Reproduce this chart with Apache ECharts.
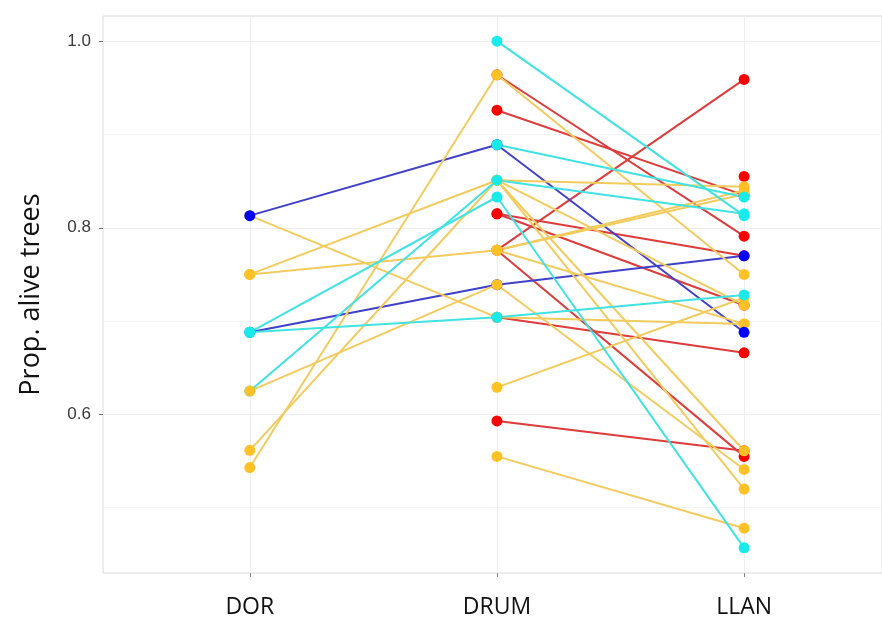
<!DOCTYPE html>
<html>
<head>
<meta charset="utf-8">
<script src="https://cdn.jsdelivr.net/npm/echarts@6/dist/echarts.min.js"></script>
<style>
  html, body { margin: 0; padding: 0; background: #ffffff; }
  #chart { width: 882px; height: 619px; }
</style>
</head>
<body>
<div id="chart"></div>
<script>
// Sites sampled in each forest; one row per site: [DOR, DRUM, LLAN], null = not sampled
const categories = ['DOR', 'DRUM', 'LLAN'];

const redSites = [
  [null, 0.964, 0.791],
  [null, 0.926, 0.835],
  [null, 0.776, 0.959],
  [null, 0.776, 0.555],
  [null, 0.815, 0.770],
  [null, 0.815, 0.717],
  [null, 0.704, 0.666],
  [null, 0.593, 0.561],
  [null, null, 0.855]
];

const blueSites = [
  [0.813, 0.889, 0.688],
  [0.688, 0.739, 0.770]
];

const goldSites = [
  [0.543, 0.964, 0.750],
  [0.813, 0.704, 0.697],
  [0.750, 0.851, 0.844],
  [0.750, 0.776, 0.840],
  [0.625, 0.739, 0.541],
  [0.5615, 0.851, 0.520],
  [null, 0.851, 0.717],
  [null, 0.851, 0.561],
  [null, 0.776, 0.836],
  [null, 0.776, 0.697],
  [null, 0.629, 0.725],
  [null, 0.555, 0.478]
];

const cyanSites = [
  [null, 1.000, 0.813],
  [0.688, 0.833, 0.457],
  [0.688, 0.704, 0.728],
  [0.625, 0.851, 0.815],
  [null, 0.889, 0.833]
];

// axis breaks
const yTicks = [0.6, 0.8, 1.0];
const yMinorGrid = [0.5, 0.7, 0.9];
const yRange = [0.43, 1.027];
const xRange = [0.406, 3.558];

const palette = {
  red:  { point: '#FF0000', line: '#DC3C3C' },
  blue: { point: '#0000FF', line: '#4040C8' },
  gold: { point: '#FFC125', line: '#F2CB5E' },
  cyan: { point: '#19EBEB', line: '#40E2E2' }
};
const sitesByColour = { red: redSites, blue: blueSites, gold: goldSites, cyan: cyanSites };

// stacking order of the site markers (later ones sit on top)
const pointOrder = [
  ['red', 0], ['red', 1], ['red', 2], ['red', 3], ['red', 4], ['red', 5], ['red', 6], ['red', 7], ['red', 8],
  ['gold', 1], ['blue', 1],
  ['gold', 0], ['gold', 2], ['gold', 3], ['gold', 5], ['gold', 6], ['gold', 7],
  ['gold', 8], ['gold', 9], ['gold', 10], ['gold', 11],
  ['blue', 0],
  ['cyan', 0], ['cyan', 1], ['cyan', 2], ['cyan', 4], ['cyan', 3],
  ['gold', 4]
];

function toPoints(row) {
  const pts = [];
  row.forEach((v, i) => { if (v !== null) pts.push([i + 1, v]); });
  return pts;
}

const series = [];

// background grid, placed on the axes' own scales
series.push({
  type: 'line',
  data: [],
  silent: true,
  z: 0,
  zlevel: 0,
  markLine: {
    silent: true,
    symbol: 'none',
    animation: false,
    label: { show: false },
    lineStyle: { color: '#EEEEEE', width: 1, type: 'solid' },
    data: [
      ...yTicks.map(v => ({ yAxis: v })),
      ...yMinorGrid.map(v => ({ yAxis: v, lineStyle: { color: '#F4F4F4', width: 1, type: 'solid' } })),
      ...categories.map((c, i) => ({ xAxis: i + 1 }))
    ]
  }
});

// connecting lines, one per site
['red', 'blue', 'gold', 'cyan'].forEach(name => {
  sitesByColour[name].forEach(row => {
    const pts = toPoints(row);
    if (pts.length < 2) return;
    series.push({
      type: 'line',
      data: pts,
      showSymbol: false,
      symbol: 'none',
      silent: true,
      zlevel: 1,
      z: 2,
      animation: false,
      lineStyle: { color: palette[name].line, width: 2 }
    });
  });
});

// site markers drawn over every line
pointOrder.forEach(([name, idx]) => {
  series.push({
    type: 'scatter',
    data: toPoints(sitesByColour[name][idx]),
    symbol: 'circle',
    symbolSize: 11,
    zlevel: 1,
    z: 3,
    silent: true,
    animation: false,
    itemStyle: { color: palette[name].point, opacity: 1 }
  });
});

const chart = echarts.init(document.getElementById('chart'), null, { renderer: 'canvas' });
chart.setOption({
  animation: false,
  backgroundColor: '#ffffff',
  grid: {
    show: true,
    left: 103,
    width: 780,
    top: 16,
    bottom: 46,
    borderColor: '#DADADA',
    borderWidth: 1,
    backgroundColor: 'transparent',
    containLabel: false
  },
  xAxis: {
    type: 'value',
    min: xRange[0],
    max: xRange[1],
    axisLine: { show: false },
    splitLine: { show: false },
    axisTick: {
      show: true,
      customValues: categories.map((c, i) => i + 1),
      length: 4,
      lineStyle: { color: '#8C8C8C' }
    },
    axisLabel: {
      customValues: categories.map((c, i) => i + 1),
      formatter: v => categories[Math.round(v) - 1] || '',
      fontFamily: 'Open Sans',
      fontSize: 23,
      color: '#111111',
      margin: 23
    }
  },
  yAxis: {
    type: 'value',
    min: yRange[0],
    max: yRange[1],
    name: 'Prop. alive trees',
    nameLocation: 'middle',
    nameRotate: 90,
    nameGap: 58,
    nameTextStyle: { fontFamily: 'Open Sans', fontSize: 27, color: '#111111' },
    axisLine: { show: false },
    splitLine: { show: false },
    axisTick: {
      show: true,
      customValues: yTicks,
      length: 4,
      lineStyle: { color: '#6E6E6E' }
    },
    axisLabel: {
      customValues: yTicks,
      formatter: v => v.toFixed(1),
      fontFamily: 'Liberation Sans',
      fontSize: 17,
      color: '#3A3A3A',
      margin: 12
    }
  },
  series: series
});
</script>
</body>
</html>
